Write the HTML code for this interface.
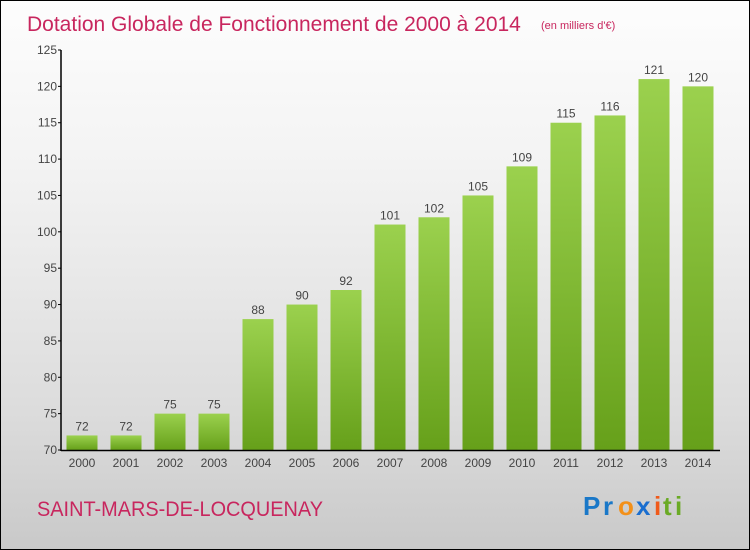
<!DOCTYPE html>
<html><head><meta charset="utf-8"><style>
body{margin:0}
#wrap{position:relative;width:748px;height:548px;border:1px solid #000;background:linear-gradient(#fdfdfd,#f3f3f3 30%,#dcdcdc 75%,#c9c9c9);font-family:"Liberation Sans",sans-serif;overflow:hidden}
text{font-family:"Liberation Sans",sans-serif}
</style></head><body>
<div id="wrap">
<svg id="svg" width="748" height="548">
<text x="26" y="30" font-size="21" fill="#c8265e" style="font-weight:300">Dotation Globale de Fonctionnement de 2000 à 2014</text>
<text x="540" y="28" font-size="11" fill="#c8265e">(en milliers d'€)</text>
<text x="36" y="515" font-size="21" fill="#c8265e" textLength="286" lengthAdjust="spacingAndGlyphs">SAINT-MARS-DE-LOCQUENAY</text>
<g font-size="26" font-weight="bold" style="font-family:'DejaVu Sans',sans-serif">
<text x="582" y="514" fill="#1a78c8">P</text><text x="602" y="514" fill="#1a78c8">r</text><text x="617" y="514" fill="#f39019">o</text><text x="635" y="514" fill="#1a6ecf">x</text><text x="653" y="514" fill="#f05a1a">i</text><text x="662" y="514" fill="#6aaa25">t</text><text x="674" y="514" fill="#6aaa25">i</text>
</g>
<defs><linearGradient id="bg" x1="0" y1="0" x2="0" y2="1"><stop offset="0" stop-color="#9bd14e"/><stop offset="1" stop-color="#66a01a"/></linearGradient></defs>
<g id="bars"></g><g id="axes"></g>
</svg></div>
<script>
const categories=["2000","2001","2002","2003","2004","2005","2006","2007","2008","2009","2010","2011","2012","2013","2014"];
const values=[72,72,75,75,88,90,92,101,102,105,109,115,116,121,120];
const yTicks=[70,75,80,85,90,95,100,105,110,115,120,125];
const NS="http://www.w3.org/2000/svg";
const x0=60,x1=719,yb=449,yt=49,vmin=70,vmax=125;
const y=v=>yb-(v-vmin)/(vmax-vmin)*(yb-yt);
const step=44,bw=31;
const cx=i=>81+i*step;
const bars=document.getElementById('bars'),axes=document.getElementById('axes');
function mk(t,a,p){const e=document.createElementNS(NS,t);for(const k in a)e.setAttribute(k,a[k]);p.appendChild(e);return e;}
values.forEach((v,i)=>{
 const r=mk('rect',{x:cx(i)-bw/2,y:y(v),width:bw,height:yb-y(v),fill:'url(#bg)'},bars);
 
 
 const t=mk('text',{x:cx(i),y:y(v)-5,'text-anchor':'middle','font-size':12,fill:'#444'},bars);
 t.textContent=v;
 
 
 const c=mk('text',{x:cx(i),y:466,'text-anchor':'middle','font-size':12,fill:'#444'},axes);
 c.textContent=categories[i];
 
 
});
yTicks.forEach(v=>{
 mk('line',{x1:x0-3,x2:x0,y1:y(v),y2:y(v),stroke:'#000'},axes);
 const t=mk('text',{x:x0-4,y:y(v)+4,'text-anchor':'end','font-size':12,fill:'#444'},axes);
 t.textContent=v;
 
 
});
const ya=mk('line',{x1:x0,x2:x0,y1:yt,y2:yb+1,stroke:'#000','stroke-width':1.5},axes);


const xa=mk('line',{x1:x0,x2:x1,y1:yb+0.5,y2:yb+0.5,stroke:'#000','stroke-width':1.5},axes);


</script>
</body></html>
